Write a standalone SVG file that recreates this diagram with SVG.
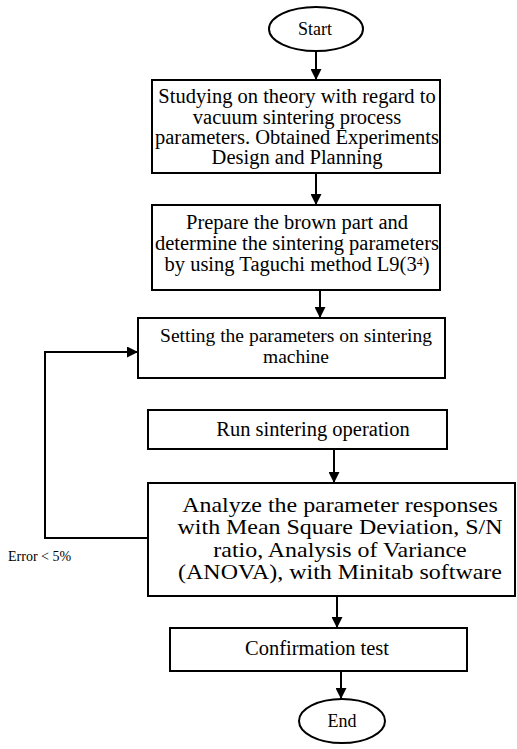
<svg xmlns="http://www.w3.org/2000/svg" width="517" height="749" viewBox="0 0 517 749">
<defs>
<marker id="ah" viewBox="0 0 10 10" refX="10" refY="5" markerWidth="11" markerHeight="11" markerUnits="userSpaceOnUse" orient="auto">
<path d="M0,0 L10,5 L0,10 z" fill="#000"/>
</marker>
<style>
.box{fill:#fff;stroke:#000;stroke-width:2}
.el{fill:#fff;stroke:#000;stroke-width:2}
.t{font-family:"Liberation Serif","Times New Roman",serif;font-size:20.5px;fill:#000;text-anchor:middle}
.big{font-size:21px}
.mid{font-size:19.5px}
.sm{font-size:18px}
.s{font-family:"Liberation Serif","Times New Roman",serif;font-size:14px;fill:#000}
.a{fill:none;stroke:#000;stroke-width:2;marker-end:url(#ah)}
</style>
</defs>
<rect width="517" height="749" fill="#fff"/>
<g id="connectors">
<line class="a" x1="316" y1="51" x2="316" y2="80"/>
<line class="a" x1="316" y1="173" x2="316" y2="205"/>
<line class="a" x1="320" y1="290" x2="320" y2="318"/>
<line class="a" x1="334" y1="449" x2="334" y2="483"/>
<line class="a" x1="337" y1="596" x2="337" y2="628"/>
<line class="a" x1="341" y1="671" x2="341" y2="699"/>
<polyline class="a" points="148,538 45,538 45,352 138,352"/>
<text class="s" x="8" y="561">Error &lt; 5%</text>
</g>
<g id="start">
<ellipse class="el" cx="316" cy="29" rx="47" ry="22"/>
<text class="t sm" x="315" y="35">Start</text>
</g>
<g id="study">
<rect class="box" x="152" y="80" width="288" height="93"/>
<text class="t" x="297" y="103">Studying on theory with regard to</text>
<text class="t" x="297" y="124">vacuum sintering process</text>
<text class="t" x="297" y="144">parameters.  Obtained Experiments</text>
<text class="t" x="297" y="164">Design and Planning</text>
</g>
<g id="prepare">
<rect class="box" x="152" y="205" width="288" height="85"/>
<text class="t" x="297" y="229">Prepare the brown part and</text>
<text class="t" x="297" y="250">determine the sintering parameters</text>
<text class="t" x="297" y="271">by using Taguchi method L9(3<tspan dy="-5" font-size="12">4</tspan><tspan dy="5">)</tspan></text>
</g>
<g id="setting">
<rect class="box" x="138" y="318" width="307" height="60"/>
<text class="t mid" x="296" y="342">Setting the parameters on sintering</text>
<text class="t mid" x="296" y="363">machine</text>
</g>
<g id="run">
<rect class="box" x="148" y="410" width="299" height="39"/>
<text class="t" x="313" y="436">Run sintering operation</text>
</g>
<g id="analyze">
<rect class="box" x="148" y="483" width="367" height="113"/>
<g transform="translate(340 0) scale(1.14 1)">
<text class="t big" x="0" y="512">Analyze the parameter responses</text>
<text class="t big" x="0" y="534.5">with Mean Square Deviation, S/N</text>
<text class="t big" x="0" y="557">ratio, Analysis of Variance</text>
<text class="t big" x="0" y="579.5">(ANOVA), with Minitab software</text>
</g>
</g>
<g id="confirm">
<rect class="box" x="170" y="628" width="297" height="43"/>
<text class="t" x="317" y="655">Confirmation test</text>
</g>
<g id="end">
<ellipse class="el" cx="342" cy="721" rx="43" ry="22"/>
<text class="t sm" x="342" y="727">End</text>
</g>
</svg>
